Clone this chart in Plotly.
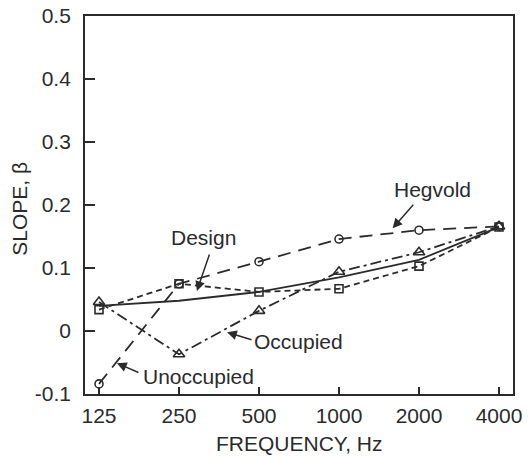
import plotly.graph_objects as go
import math

# Octave-band centre frequencies (Hz)
freq = [125, 250, 500, 1000, 2000, 4000]
freq_labels = ["125", "250", "500", "1000", "2000", "4000"]

# Slope values per curve
slope_circles = [-0.084, 0.075, 0.110, 0.146, 0.160, 0.166]      # Unoccupied / Hegvold
slope_occupied = [0.046, -0.037, 0.032, 0.094, 0.125, 0.166]    # Occupied
slope_design = [0.034, 0.075, 0.062, 0.067, 0.103, 0.165]       # Design
slope_solid = [0.040, 0.048, 0.062, 0.085, 0.113, 0.165]        # solid reference curve

y_ticks = [-0.1, 0, 0.1, 0.2, 0.3, 0.4, 0.5]
y_tick_labels = ["-0.1", "0", "0.1", "0.2", "0.3", "0.4", "0.5"]

INK = "#2b2b2b"
FONT = "Liberation Sans, Arial, Helvetica, sans-serif"
FS = 21

fig = go.Figure()

fig.add_trace(go.Scatter(
    x=freq, y=slope_solid, mode="lines", name="fit",
    line=dict(color=INK, width=1.8, dash="solid"),
))
fig.add_trace(go.Scatter(
    x=freq, y=slope_design, mode="lines+markers", name="Design",
    line=dict(color=INK, width=1.8, dash="6px,4px"),
    marker=dict(symbol="square-open", size=8, color=INK, line=dict(width=1.6)),
))
fig.add_trace(go.Scatter(
    x=freq, y=slope_occupied, mode="lines+markers", name="Occupied",
    line=dict(color=INK, width=1.8, dash="11px,4px,3px,4px"),
    marker=dict(symbol="triangle-up-open", size=10, color=INK, line=dict(width=1.6)),
))
fig.add_trace(go.Scatter(
    x=freq, y=slope_circles, mode="lines+markers", name="Hegvold",
    line=dict(color=INK, width=1.8, dash="13px,8px"),
    marker=dict(symbol="circle-open", size=8, color=INK, line=dict(width=1.6)),
))

label_font = dict(family=FONT, size=FS, color=INK)

# Curve labels
labels = [
    dict(text="Design", x=308, y=0.148, xanchor="center"),
    dict(text="Hegvold", x=2250, y=0.225, xanchor="center"),
    dict(text="Occupied", x=470, y=-0.017, xanchor="left"),
    dict(text="Unoccupied", x=180, y=-0.073, xanchor="left"),
]
for lab in labels:
    fig.add_annotation(
        text=lab["text"], x=math.log10(lab["x"]), y=lab["y"],
        xref="x", yref="y", xanchor=lab["xanchor"], yanchor="middle",
        showarrow=False, font=label_font,
    )

# Leader arrows (tip in data units, tail as pixel offset)
arrows = [
    dict(x=292, y=0.0635, ax=13, ay=-38),
    dict(x=1591, y=0.163, ax=22, ay=-25),
    dict(x=379, y=-0.002, ax=26, ay=8),
    dict(x=146, y=-0.051, ax=23, ay=10),
]
for a in arrows:
    fig.add_annotation(
        text="", x=math.log10(a["x"]), y=a["y"], xref="x", yref="y",
        ax=a["ax"], ay=a["ay"], showarrow=True,
        arrowhead=2, arrowsize=1.3, arrowwidth=1.5, arrowcolor=INK,
        standoff=0, startstandoff=0,
    )

# Axis titles
fig.add_annotation(
    text="FREQUENCY, Hz", x=0.5, y=-0.13, xref="paper", yref="paper",
    xanchor="center", yanchor="middle", showarrow=False,
    font=dict(family=FONT, size=FS, color=INK),
)
fig.add_annotation(
    text="SLOPE, \u03b2", x=-0.152, y=0.49, xref="paper", yref="paper",
    xanchor="center", yanchor="middle", showarrow=False, textangle=-90,
    font=dict(family=FONT, size=FS, color=INK),
)

octave = math.log10(2)
fig.update_xaxes(
    type="log",
    range=[math.log10(125) - 0.175 * octave, math.log10(4000) + 0.175 * octave],
    tickvals=freq, ticktext=freq_labels,
    ticks="inside", ticklen=7, tickwidth=1.5, tickcolor=INK,
    showline=True, linewidth=1.8, linecolor=INK, mirror=True,
    showgrid=False, zeroline=False, ticklabelstandoff=2, automargin=False,
    tickfont=dict(family=FONT, size=FS, color=INK),
)
fig.update_yaxes(
    range=[-0.1, 0.5],
    tickvals=y_ticks, ticktext=y_tick_labels,
    ticks="inside", ticklen=10, tickwidth=1.5, tickcolor=INK,
    showline=True, linewidth=1.8, linecolor=INK, mirror=True,
    showgrid=False, zeroline=False, ticklabelstandoff=8, automargin=False,
    tickfont=dict(family=FONT, size=FS, color=INK),
)

fig.update_layout(
    width=529, height=457,
    margin=dict(l=85, r=16, t=16, b=63),
    plot_bgcolor="white", paper_bgcolor="white",
    showlegend=False,
)

fig.write_html("out.html")
